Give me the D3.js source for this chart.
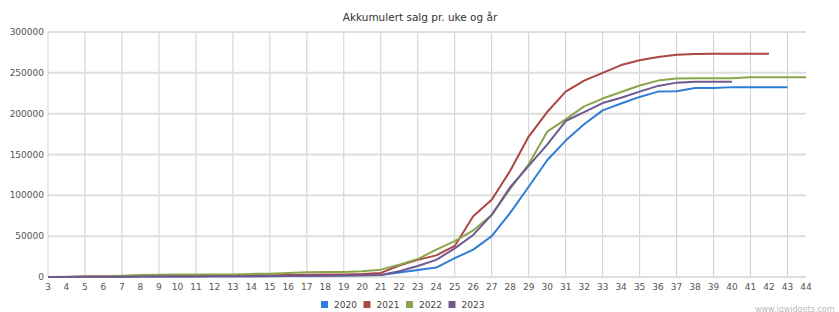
<!DOCTYPE html>
<html>
<head>
<meta charset="utf-8">
<script src="https://cdn.jsdelivr.net/npm/d3@7"></script>
<style>
  body { margin: 0; background: #fff; }
  text { font-family: "DejaVu Sans", Verdana, sans-serif; }
</style>
</head>
<body>
<div id="chart"></div>
<script>
// Weeks on the x axis
var weeks = d3.range(3, 45);

// Cumulative sales per year, starting at week 3
var sales2020 = [0, 0, 200, 300, 400, 500, 600, 700, 700, 800, 800, 900, 1000, 1100, 1300, 1500, 1700, 2000, 2500,
  5500, 8500, 11500, 23000, 33500, 50000, 78500, 110500, 143000, 167000, 187000, 204000, 212500, 220500,
  227000, 227500, 231500, 231500, 232500, 232500, 232500, 232500];
var sales2021 = [0, 100, 300, 500, 800, 1200, 1400, 1500, 1600, 1700, 1800, 2000, 2200, 2500, 2800, 3000, 3200, 3600, 5000,
  14000, 21000, 26500, 38000, 74500, 94500, 130000, 172000, 202000, 227000, 240500, 250000, 259500, 265500,
  269500, 272000, 273000, 273500, 273500, 273500, 273500];
var sales2022 = [0, 200, 500, 900, 1500, 2500, 2800, 3000, 3000, 3000, 3100, 3800, 4000, 4800, 5800, 6000, 6200, 7000, 9000,
  15000, 22000, 33500, 44000, 57000, 76000, 108000, 138000, 178000, 193000, 209000, 218500, 226500, 234500,
  240500, 243000, 243500, 243500, 243500, 244500, 244500, 244500, 244500];
var sales2023 = [0, 100, 200, 300, 400, 500, 600, 700, 700, 800, 900, 1000, 1100, 1200, 1400, 1500, 1700, 2000, 2500,
  7000, 13500, 21000, 35000, 51500, 76000, 110000, 136000, 162000, 191000, 202000, 213000, 219500, 227000,
  234000, 238000, 239000, 239000, 239000];

var years = ["2020", "2021", "2022", "2023"];
var colors = ["#307DD7", "#AA4643", "#89A54E", "#71588F"];
var yTicks = [0, 50000, 100000, 150000, 200000, 250000, 300000];

var series = [sales2020, sales2021, sales2022, sales2023].map(function(vals, i) {
  return { name: years[i], color: colors[i],
    values: vals.map(function(v, j) { return { week: weeks[j], value: v }; }) };
});

var width = 839, height = 312;
var svg = d3.select("#chart").append("svg")
  .attr("width", width)
  .attr("height", height);

var x = d3.scaleLinear().domain([3, 44]).range([48, 806]);
var y = d3.scaleLinear().domain([0, 300000]).range([277, 32]);

// title
svg.append("text")
  .attr("x", 420).attr("y", 21)
  .attr("text-anchor", "middle")
  .attr("font-size", 10.5)
  .attr("fill", "#333")
  .text("Akkumulert salg pr. uke og år");

// vertical grid every second week
svg.append("g")
  .selectAll("line")
  .data(weeks.filter(function(w) { return (w - 3) % 2 == 0 && w > 3; }))
  .join("line")
    .attr("x1", d => x(d)).attr("x2", d => x(d))
    .attr("y1", y(300000)).attr("y2", y(0))
    .attr("stroke", "#cfcfcf")
    .attr("stroke-width", 1);

// horizontal grid
svg.append("g")
  .selectAll("line")
  .data(yTicks)
  .join("line")
    .attr("x1", x(3)).attr("x2", x(44))
    .attr("y1", d => y(d)).attr("y2", d => y(d))
    .attr("stroke", "#dedede")
    .attr("stroke-width", 2);

// left axis line
svg.append("line")
  .attr("x1", x(3)).attr("x2", x(3))
  .attr("y1", y(300000)).attr("y2", y(0))
  .attr("stroke", "#cfcfcf");

// y labels
svg.append("g")
  .selectAll("text")
  .data(yTicks)
  .join("text")
    .attr("x", 44).attr("y", d => y(d) + 3)
    .attr("text-anchor", "end")
    .attr("font-size", 9)
    .attr("fill", "#555")
    .text(d => d);

// x labels
svg.append("g")
  .selectAll("text")
  .data(weeks)
  .join("text")
    .attr("x", d => x(d)).attr("y", 290)
    .attr("text-anchor", "middle")
    .attr("font-size", 9)
    .attr("fill", "#555")
    .text(d => d);

// lines
var line = d3.line()
  .x(d => x(d.week))
  .y(d => y(d.value));

svg.append("g")
  .selectAll("path")
  .data(series)
  .join("path")
    .attr("fill", "none")
    .attr("stroke", d => d.color)
    .attr("stroke-width", 2)
    .attr("stroke-linejoin", "round")
    .attr("d", d => line(d.values));

// legend
var legend = svg.append("g")
  .selectAll("g")
  .data(series)
  .join("g")
    .attr("transform", (d, i) => "translate(" + (321 + i * 42.5) + ",301)");
legend.append("rect")
  .attr("width", 7).attr("height", 7)
  .attr("fill", d => d.color);
legend.append("text")
  .attr("x", 13).attr("y", 7)
  .attr("font-size", 9)
  .attr("fill", "#444")
  .text(d => d.name);

// watermark
svg.append("text")
  .attr("x", 755).attr("y", 312)
  .attr("font-size", 8)
  .attr("fill", "#bbb")
  .text("www.jqwidgets.com");
</script>
</body>
</html>
